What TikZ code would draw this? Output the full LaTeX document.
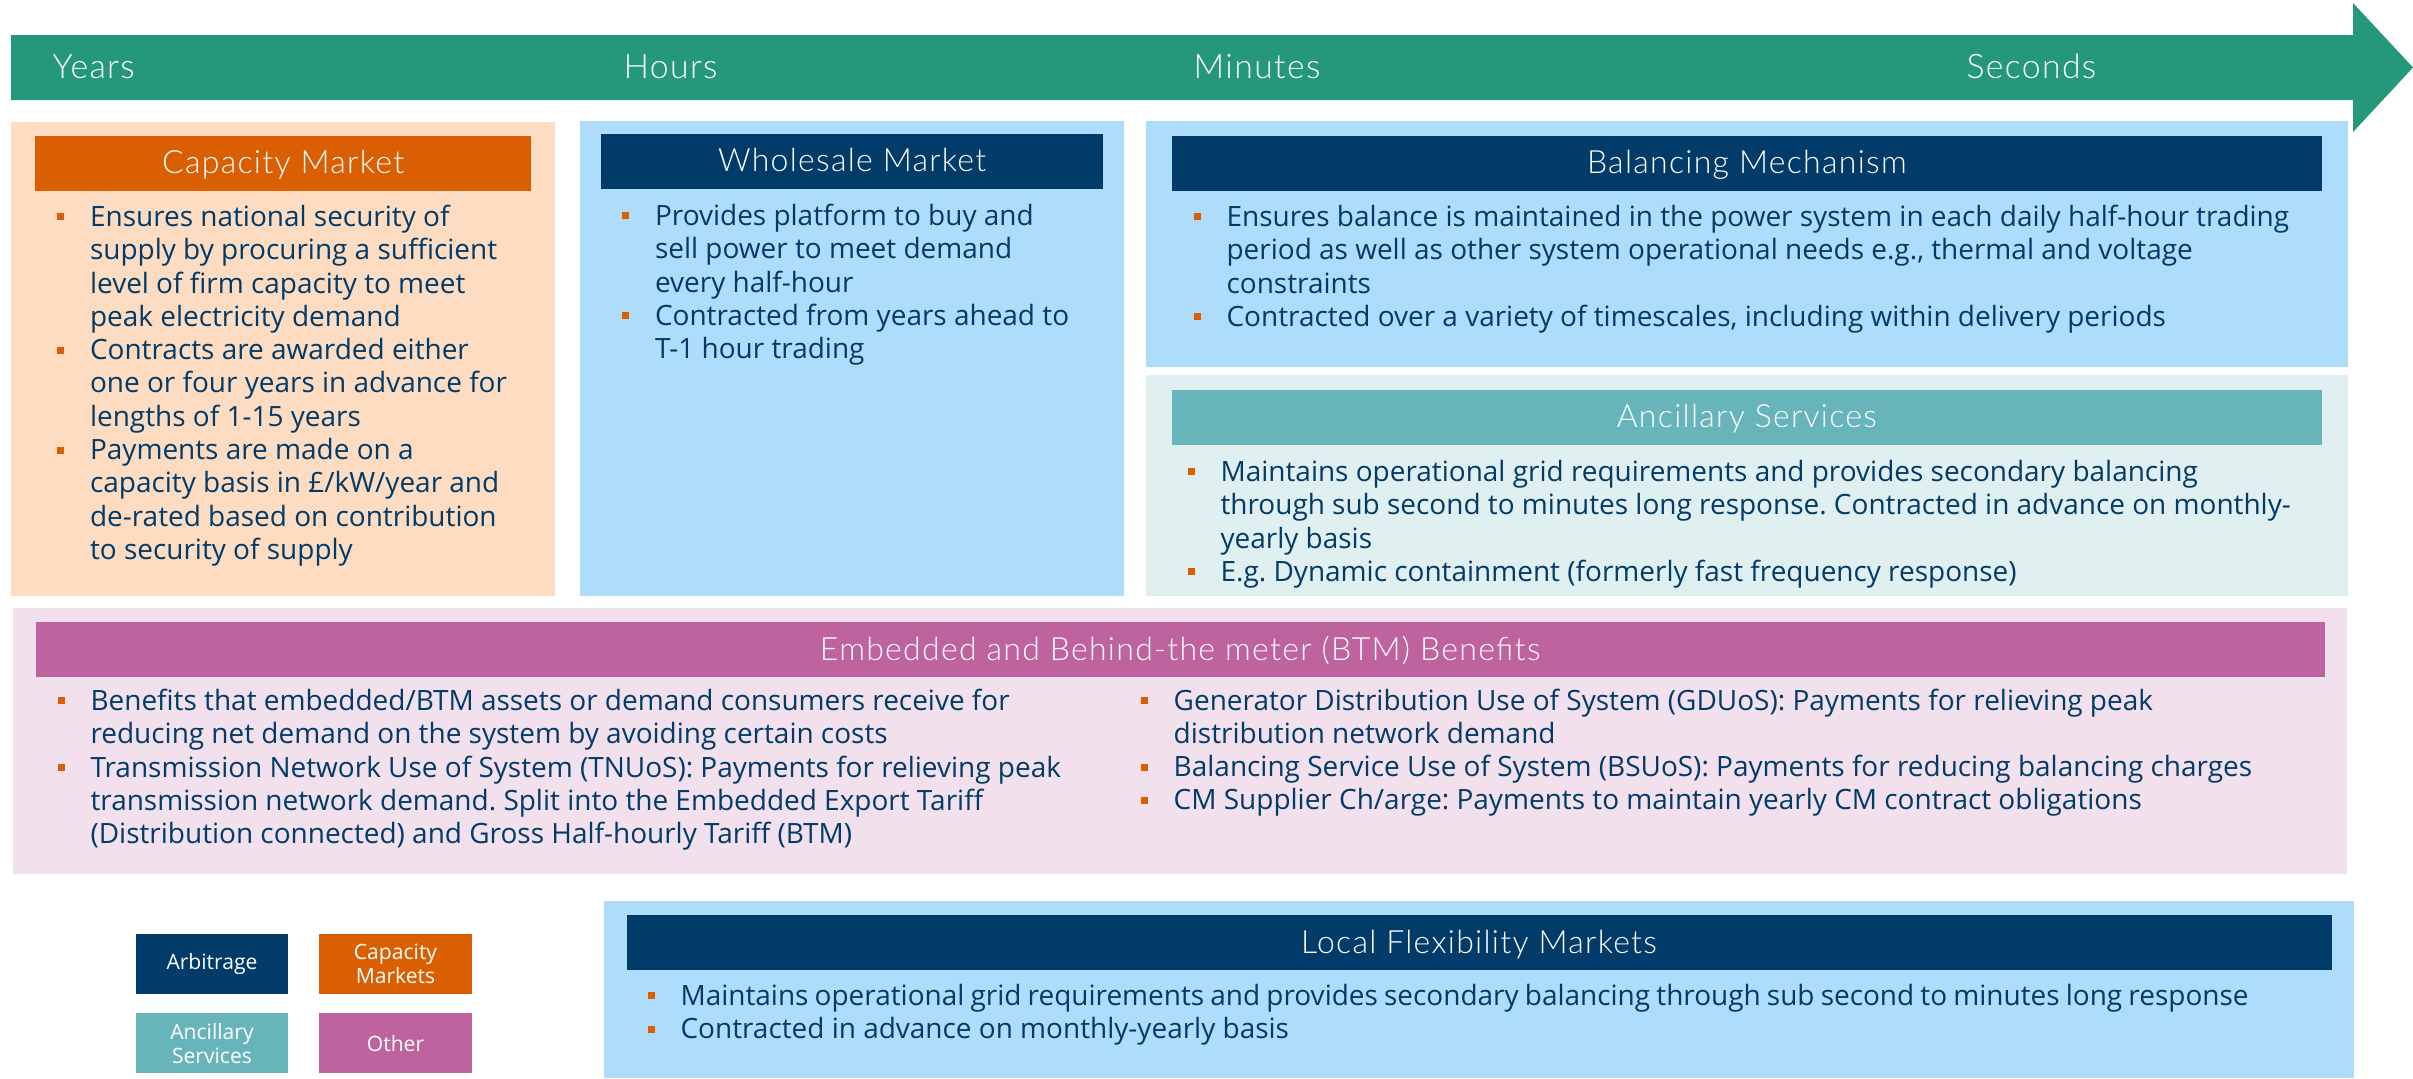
\documentclass[tikz,border=0pt]{standalone}
\usepackage{fontspec}
\setmainfont{Open Sans}
\newfontfamily\headfont{Lato}[UprightFont=* Light, LetterSpace=4]
\usetikzlibrary{positioning}
\definecolor{navy}{HTML}{003B69}
\definecolor{orng}{HTML}{D95F02}
\definecolor{grn}{HTML}{25977B}
\definecolor{peach}{HTML}{FDDCC1}
\definecolor{sky}{HTML}{AEDCFB}
\definecolor{tealhd}{HTML}{67B5BA}
\definecolor{paleteal}{HTML}{E0EFEF}
\definecolor{mauve}{HTML}{BF639F}
\definecolor{palepink}{HTML}{F2E0EC}
\frenchspacing
\newcommand\itm{\par\noindent\hangindent=3.3mm\hangafter=1\makebox[3.3mm][l]{\textcolor{orng}{\rule[0.6mm]{0.7mm}{0.7mm}}}}
\newcommand\blist[1]{\begin{minipage}[t]{16cm}#1\end{minipage}}

\begin{document}
\begin{tikzpicture}[x=0.01cm, y=-0.01cm,
	panel/.style={anchor=north west, inner sep=0, outer sep=0},
	head/.style={text=white, inner sep=0, minimum height=5.5mm, text height=2.15mm, text depth=0pt, font=\headfont\fontsize{9.1}{10}\selectfont},
	body/.style={anchor=base west, inner sep=0, text=navy, font=\fontsize{7.95}{9.47}\selectfont},
	tick/.style={anchor=base west, inner sep=0, text=white, font=\headfont\fontsize{9.6}{11}\selectfont},
	key/.style={text=white, inner sep=0, minimum width=1.52cm, minimum height=6mm, align=center, font=\fontsize{6}{6.7}\selectfont}]
		\useasboundingbox (0,0) rectangle (2413,1078);

		\fill[grn] (11,35) -- (2353,35) -- (2353,3) -- (2413,67.5) -- (2353,132) -- (2353,100) -- (11,100) -- cycle;
		\node[tick] (yrs) at (52,78) {Years};
		\node[tick] (hrs) at (623,78) {Hours};
		\node[tick] (mins) at (1193,78) {Minutes};
		\node[tick] (secs) at (1966,78) {Seconds};

		\node[panel, fill=peach, minimum width=5.44cm, minimum height=4.74cm] (cap) at (11,122) {};
		\node[head, fill=orng, minimum width=4.96cm] (caphd) [below=1.3mm of cap.north] {Capacity Market};
		\node[body] (captx) at ([shift={(2.2mm,-3.5mm)}]caphd.south west) {\blist{\itm Ensures national security of\\supply by procuring a sufficient\\level of firm capacity to meet\\peak electricity demand
			\itm Contracts are awarded either\\one or four years in advance for\\lengths of 1-15 years
			\itm Payments are made on a\\capacity basis in £/kW/year and\\de-rated based on contribution\\to security of supply}};

		\node[panel, fill=sky, minimum width=5.44cm, minimum height=4.75cm] (whl) at (580,121) {};
		\node[head, fill=navy, minimum width=5.02cm] (whlhd) [below=1.2mm of whl.north] {Wholesale Market};
		\node[body] (whltx) at ([shift={(2.1mm,-3.6mm)}]whlhd.south west) {\blist{\itm Provides platform to buy and\\sell power to meet demand\\every half-hour
			\itm Contracted from years ahead to\\T-1 hour trading}};

		\node[panel, fill=sky, minimum width=12.01cm, minimum height=2.46cm] (bal) at (1146,121) {};
		\node[head, fill=navy, minimum width=11.5cm] (balhd) [below=1.4mm of bal.north] {Balancing Mechanism};
		\node[body] (baltx) at ([shift={(2.2mm,-3.5mm)}]balhd.south west) {\blist{\itm Ensures balance is maintained in the power system in each daily half-hour trading\\period as well as other system operational needs e.g., thermal and voltage\\constraints
			\itm Contracted over a variety of timescales, including within delivery periods}};

		\node[panel, fill=paleteal, minimum width=12.01cm, minimum height=2.21cm] (anc) at (1146,375) {};
		\node[head, fill=tealhd, minimum width=11.5cm] (anchd) [below=1.4mm of anc.north] {Ancillary Services};
		\node[body] (anctx) at ([shift={(1.6mm,-3.6mm)}]anchd.south west) {\blist{\itm Maintains operational grid requirements and provides secondary balancing\\through sub second to minutes long response. Contracted in advance on monthly-\\yearly basis
			\itm E.g. Dynamic containment (formerly fast frequency response)}};

		\node[panel, fill=palepink, minimum width=23.33cm, minimum height=2.66cm] (btm) at (13,608) {};
		\node[head, fill=mauve, minimum width=22.88cm] (btmhd) [below=1.3mm of btm.north] {Embedded and Behind-the meter (BTM) Benefits};
		\node[body] (btmtx) at ([shift={(2.2mm,-3.3mm)}]btmhd.south west) {\blist{\itm Benefits that embedded/BTM assets or demand consumers receive for\\reducing net demand on the system by avoiding certain costs
			\itm Transmission Network Use of System (TNUoS): Payments for relieving peak\\transmission network demand. Split into the Embedded Export Tariff\\(Distribution connected) and Gross Half-hourly Tariff (BTM)}};
		\node[body] (btmtx2) at (1140,710) {\blist{\itm Generator Distribution Use of System (GDUoS): Payments for relieving peak\\distribution network demand
			\itm Balancing Service Use of System (BSUoS): Payments for reducing balancing charges
			\itm CM Supplier Ch/arge: Payments to maintain yearly CM contract obligations}};

		\node[key, fill=navy] (arb) at (212,964) {Arbitrage};
		\node[key, fill=orng] (cmk) [right=3mm of arb] {Capacity\\Markets};
		\node[key, fill=tealhd] (ancs) [below=1.8mm of arb] {Ancillary\\Services};
		\node[key, fill=mauve] (oth) [right=3mm of ancs] {Other};

		\node[panel, fill=sky, minimum width=17.49cm, minimum height=1.77cm] (lfm) at (604,901) {};
		\node[head, fill=navy, minimum width=17.04cm] (lfmhd) [below=1.3mm of lfm.north] {Local Flexibility Markets};
		\node[body] (lfmtx) at ([shift={(2.1mm,-3.5mm)}]lfmhd.south west) {\blist{\itm Maintains operational grid requirements and provides secondary balancing through sub second to minutes long response
			\itm Contracted in advance on monthly-yearly basis}};
	\end{tikzpicture}
\end{document}
